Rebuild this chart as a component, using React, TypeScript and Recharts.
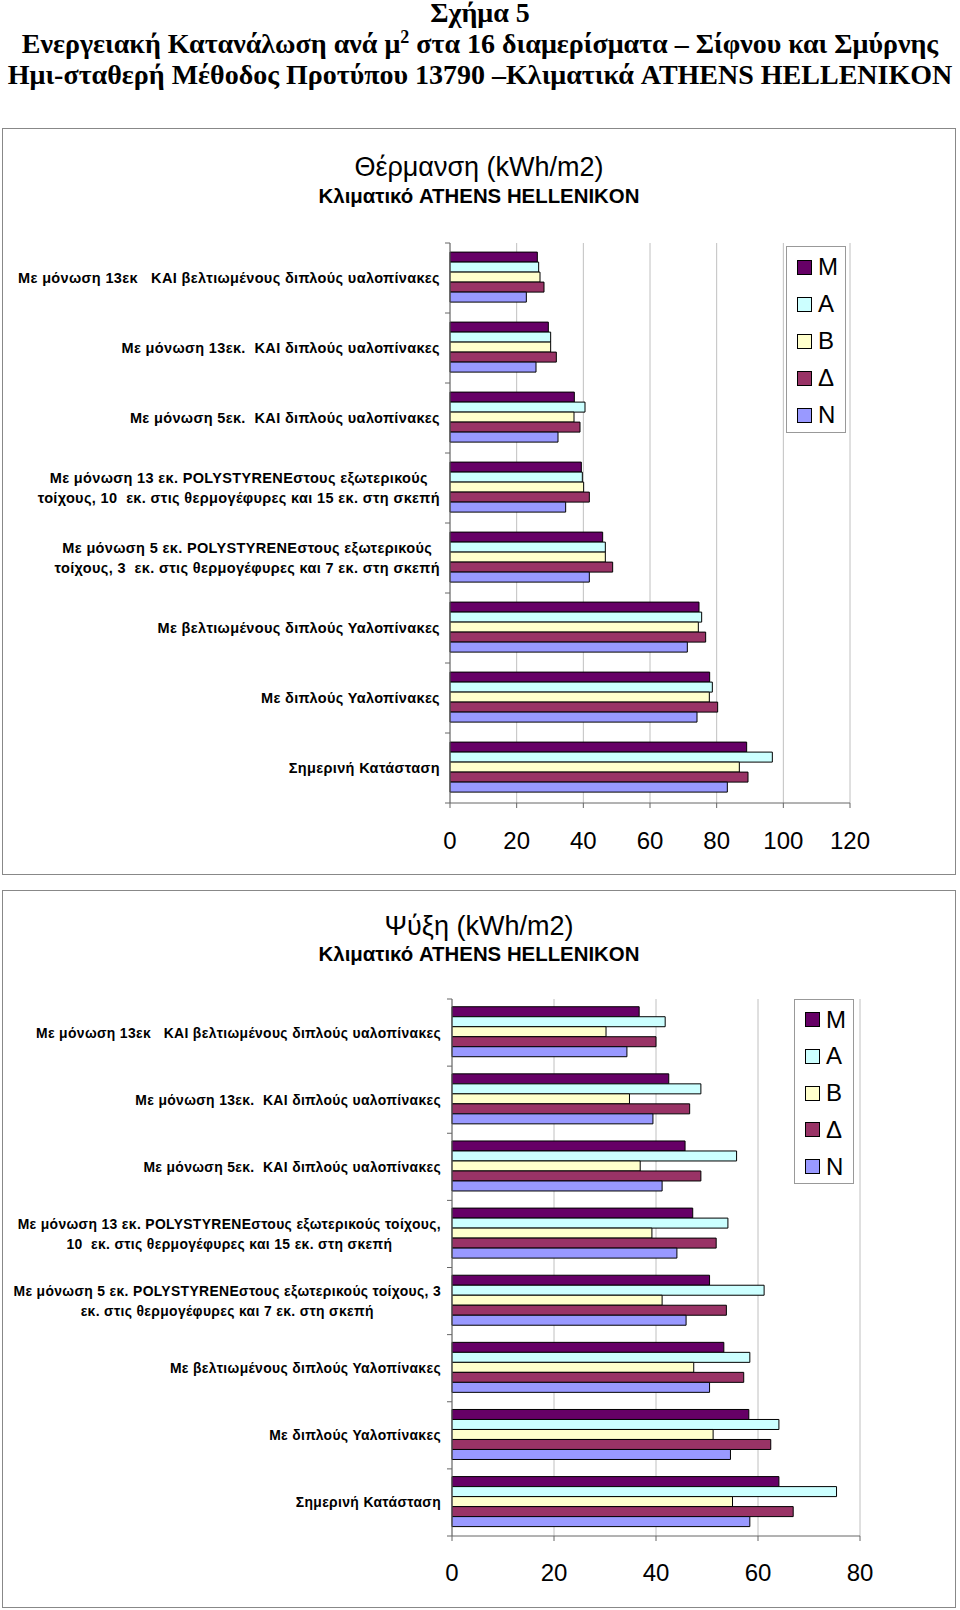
import React from 'react';
import { BarChart, Bar, XAxis, YAxis, CartesianGrid, Legend } from 'recharts';

// ---------- DATA ----------
const heatingCategories = [
  'Με μόνωση 13εκ   ΚΑΙ βελτιωμένους διπλούς υαλοπίνακες',
  'Με μόνωση 13εκ.  ΚΑΙ διπλούς υαλοπίνακες',
  'Με μόνωση 5εκ.  ΚΑΙ διπλούς υαλοπίνακες',
  'Με μόνωση 13 εκ. POLYSTYRENEστους εξωτερικούς\nτοίχους, 10  εκ. στις θερμογέφυρες και 15 εκ. στη σκεπή',
  'Με μόνωση 5 εκ. POLYSTYRENEστους εξωτερικούς\nτοίχους, 3  εκ. στις θερμογέφυρες και 7 εκ. στη σκεπή',
  'Με βελτιωμένους διπλούς Υαλοπίνακες',
  'Με διπλούς Υαλοπίνακες',
  'Σημερινή Κατάσταση',
];
const coolingCategories = [
  'Με μόνωση 13εκ   ΚΑΙ βελτιωμένους διπλούς υαλοπίνακες',
  'Με μόνωση 13εκ.  ΚΑΙ διπλούς υαλοπίνακες',
  'Με μόνωση 5εκ.  ΚΑΙ διπλούς υαλοπίνακες',
  'Με μόνωση 13 εκ. POLYSTYRENEστους εξωτερικούς τοίχους,\n10  εκ. στις θερμογέφυρες και 15 εκ. στη σκεπή',
  'Με μόνωση 5 εκ. POLYSTYRENEστους εξωτερικούς τοίχους, 3\nεκ. στις θερμογέφυρες και 7 εκ. στη σκεπή',
  'Με βελτιωμένους διπλούς Υαλοπίνακες',
  'Με διπλούς Υαλοπίνακες',
  'Σημερινή Κατάσταση',
];

const seriesNames = ['M', 'A', 'B', 'Δ', 'N'];
const seriesColors = ['#660066', '#CCFFFF', '#FFFFCC', '#993366', '#9999FF'];

const heatM = [26.2, 29.5, 37.3, 39.4, 45.8, 74.7, 77.9, 89.0];
const heatA = [26.6, 30.2, 40.5, 39.7, 46.6, 75.5, 78.7, 96.7];
const heatB = [27.0, 30.2, 37.2, 40.1, 46.6, 74.5, 77.8, 86.8];
const heatD = [28.2, 31.9, 39.0, 41.8, 48.8, 76.7, 80.3, 89.4];
const heatN = [22.9, 25.8, 32.4, 34.7, 41.8, 71.2, 74.1, 83.2];

const coolM = [36.7, 42.5, 45.7, 47.2, 50.5, 53.3, 58.2, 64.1];
const coolA = [41.8, 48.8, 55.8, 54.1, 61.2, 58.4, 64.1, 75.4];
const coolB = [30.2, 34.8, 36.9, 39.2, 41.2, 47.4, 51.2, 55.0];
const coolD = [40.0, 46.6, 48.8, 51.8, 53.8, 57.2, 62.5, 66.9];
const coolN = [34.3, 39.4, 41.2, 44.1, 45.9, 50.5, 54.6, 58.4];

const heatTicks = [0, 20, 40, 60, 80, 100, 120];
const coolTicks = [0, 20, 40, 60, 80];

const heatSeries = [heatM, heatA, heatB, heatD, heatN];
const coolSeries = [coolM, coolA, coolB, coolD, coolN];

const keys = ['s0', 's1', 's2', 's3', 's4'];

function buildRows(cats: string[], series: number[][]) {
  return cats.map((c, i) => {
    const row: any = { cat: c };
    series.forEach((s, j) => (row[keys[j]] = s[i]));
    return row;
  });
}

const heatRows = buildRows(heatingCategories, heatSeries);
const coolRows = buildRows(coolingCategories, coolSeries);

// ---------- helpers ----------
const SANS = 'Arial, "Liberation Sans", Helvetica, sans-serif';
const SERIF = '"Times New Roman", "Liberation Serif", serif';

let measureCtx: CanvasRenderingContext2D | null = null;
function measure(text: string, font: string, ls: number) {
  if (!measureCtx) measureCtx = document.createElement('canvas').getContext('2d');
  if (!measureCtx) return text.length * 7;
  measureCtx.font = font;
  return measureCtx.measureText(text).width + ls * text.length;
}

function makeTick(fontSize: number, letterSpacing: number, lineGap: number, tickMargin: number, step: number, count: number) {
  return (props: any) => {
    const { x, y, payload, index } = props;
    const lines = String(payload.value).split('\n');
    const font = `bold ${fontSize}px ${SANS}`;
    const widths = lines.map((l) => measure(l, font, letterSpacing));
    const maxW = Math.max(...widths);
    const cx = x - maxW / 2;
    const startY = y - ((lines.length - 1) * lineGap) / 2;
    const plotLeft = x + tickMargin;
    const top = y - step / 2;
    return (
      <g>
        <line x1={plotLeft - 5} x2={plotLeft} y1={top} y2={top} stroke="#666" />
        {index === count - 1 && (
          <line x1={plotLeft - 5} x2={plotLeft} y1={y + step / 2} y2={y + step / 2} stroke="#666" />
        )}
        {lines.map((l, i) => (
          <text
            key={i}
            x={lines.length > 1 ? cx : x}
            y={startY + i * lineGap}
            textAnchor={lines.length > 1 ? 'middle' : 'end'}
            dominantBaseline="central"
            fontFamily={SANS}
            fontWeight="bold"
            fontSize={fontSize}
            letterSpacing={letterSpacing}
            fill="#000"
            style={{ whiteSpace: 'pre' }}
          >
            {l}
          </text>
        ))}
      </g>
    );
  };
}

function LegendBox({ first, step }: { first: number; step: number }) {
  return (
    <div
      style={{
        width: 60,
        height: first + step * 4 + first - 1,
        border: '1px solid #999',
        background: '#fff',
        boxSizing: 'border-box',
        position: 'relative',
      }}
    >
      {seriesNames.map((n, i) => (
        <div
          key={n}
          style={{
            position: 'absolute',
            left: 10,
            top: first + i * step - 12,
            height: 24,
            display: 'flex',
            alignItems: 'center',
          }}
        >
          <div
            style={{
              width: 15,
              height: 15,
              background: seriesColors[i],
              border: '1px solid #000',
              boxSizing: 'border-box',
              marginRight: 6,
            }}
          />
          <span style={{ fontFamily: SANS, fontSize: 24, color: '#000', lineHeight: '24px' }}>{n}</span>
        </div>
      ))}
    </div>
  );
}

interface PanelProps {
  top: number;
  height: number;
  title: string;
  titleY: number;
  subY: number;
  rows: any[];
  ticks: number[];
  max: number;
  margin: { top: number; right: number; bottom: number; left: number };
  tickMargin: number;
  xTickMargin: number;
  gap: string;
  legendPos: { left: number; top: number };
  legendFirst: number;
  legendStep: number;
  labelSize: number;
}

function Panel(p: PanelProps) {
  const width = 954;
  const xAxisHeight = 60;
  const plotH = p.height - p.margin.top - p.margin.bottom - xAxisHeight;
  const step = plotH / p.rows.length;
  const Tick = makeTick(p.labelSize, 0.35, 20, p.tickMargin, step, p.rows.length);
  return (
    <div
      style={{
        position: 'absolute',
        left: 2,
        top: p.top,
        width,
        height: p.height,
        border: '1px solid #888',
        boxSizing: 'border-box',
        background: '#fff',
      }}
    >
      <div
        style={{
          position: 'absolute',
          left: 0,
          width: '100%',
          top: p.titleY - 16,
          textAlign: 'center',
          fontFamily: SANS,
          fontSize: 27,
          lineHeight: '32px',
          color: '#000',
        }}
      >
        {p.title}
      </div>
      <div
        style={{
          position: 'absolute',
          left: 0,
          width: '100%',
          top: p.subY - 12,
          textAlign: 'center',
          fontFamily: SANS,
          fontWeight: 'bold',
          fontSize: 20.4,
          lineHeight: '24px',
          color: '#000',
        }}
      >
        Κλιματικό ATHENS HELLENIKON
      </div>
      <div style={{ position: 'absolute', left: -1, top: -1 }}>
        <BarChart
          width={width}
          height={p.height}
          data={p.rows}
          layout="vertical"
          margin={p.margin}
          barCategoryGap={p.gap}
          barGap={0}
        >
          <CartesianGrid horizontal={false} stroke="#c0c0c0" strokeWidth={1} />
          <XAxis
            type="number"
            domain={[0, p.max]}
            ticks={p.ticks}
            interval={0}
            height={xAxisHeight}
            tickSize={5}
            tickMargin={p.xTickMargin}
            tick={{ fontFamily: SANS, fontSize: 24, fill: '#000' }}
            axisLine={{ stroke: '#666' }}
            tickLine={{ stroke: '#666' }}
          />
          <XAxis
            xAxisId="top"
            orientation="top"
            type="number"
            domain={[0, p.max]}
            height={0}
            tick={false}
            tickLine={false}
            axisLine={{ stroke: '#a0a0a0' }}
          />
          <YAxis
            type="category"
            dataKey="cat"
            width={440}
            interval={0}
            tickSize={0}
            tickMargin={p.tickMargin}
            tickLine={false}
            axisLine={{ stroke: '#666' }}
            tick={<Tick />}
          />
          <Legend
            layout="horizontal"
            verticalAlign="middle"
            align="center"
            wrapperStyle={{ position: 'absolute', left: p.legendPos.left, top: p.legendPos.top, width: 60 }}
            content={() => <LegendBox first={p.legendFirst} step={p.legendStep} />}
          />
          {keys.map((k, i) => (
            <Bar
              key={k}
              dataKey={k}
              name={seriesNames[i]}
              fill={seriesColors[i]}
              stroke="#000"
              strokeWidth={1}
              isAnimationActive={false}
            />
          ))}
        </BarChart>
      </div>
    </div>
  );
}

export default function App() {
  return (
    <div style={{ position: 'absolute', left: 0, top: 0, width: 960, height: 1610, background: '#fff' }}>
      <div
        style={{
          position: 'absolute',
          left: 0,
          top: 0,
          width: 960,
          textAlign: 'center',
          fontFamily: SERIF,
          fontWeight: 'bold',
          fontSize: 28,
          lineHeight: '31px',
          color: '#000',
          whiteSpace: 'nowrap',
        }}
      >
        <div style={{ marginTop: -3 }}>Σχήμα 5</div>
        <div>
          Ενεργειακή Κατανάλωση ανά μ<sup style={{ fontSize: 18, lineHeight: 0 }}>2</sup> στα 16 διαμερίσματα – Σίφνου και Σμύρνης
        </div>
        <div>Ημι-σταθερή Μέθοδος Προτύπου 13790 –Κλιματικά ATHENS HELLENIKON</div>
      </div>
      <Panel
        top={128}
        height={747}
        title="Θέρμανση (kWh/m2)"
        titleY={38}
        subY={67}
        rows={heatRows}
        ticks={heatTicks}
        max={120}
        margin={{ top: 115, right: 106, bottom: 12, left: 8 }}
        tickMargin={10}
        xTickMargin={24}
        gap="13%"
        legendPos={{ left: 784, top: 118 }}
        legendFirst={20}
        legendStep={37}
        labelSize={14.5}
      />
      <Panel
        top={890}
        height={718}
        title="Ψύξη (kWh/m2)"
        titleY={35}
        subY={63}
        rows={coolRows}
        ticks={coolTicks}
        max={80}
        margin={{ top: 109, right: 96, bottom: 12, left: 10 }}
        tickMargin={11}
        xTickMargin={23}
        gap="11.5%"
        legendPos={{ left: 792, top: 109 }}
        legendFirst={19.5}
        legendStep={36.8}
        labelSize={13.9}
      />
    </div>
  );
}
